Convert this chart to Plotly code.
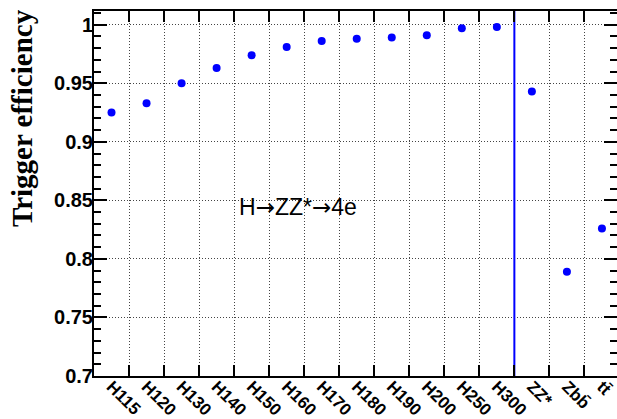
import plotly.graph_objects as go

# Trigger efficiency per sample: Higgs mass points, then backgrounds
higgs_labels = ["H115", "H120", "H130", "H140", "H150", "H160",
                "H170", "H180", "H190", "H200", "H250", "H300"]
higgs_eff = [0.925, 0.933, 0.950, 0.963, 0.974, 0.981,
             0.986, 0.988, 0.989, 0.991, 0.997, 0.998]

bkg_labels = ["ZZ*", "Zbb\u0304", "tt\u0304"]
bkg_eff = [0.943, 0.789, 0.826]

labels = higgs_labels + bkg_labels
effs = higgs_eff + bkg_eff

y_ticks = [0.7, 0.75, 0.8, 0.85, 0.9, 0.95, 1.0]
y_ticktext = ["0.7", "0.75", "0.8", "0.85", "0.9", "0.95", "1"]

n_bins = len(labels)
centers = [i + 0.5 for i in range(n_bins)]
edges = list(range(1, n_bins))
separator = len(higgs_labels)

W, H = 617, 419
ML, MT, MB = 94, 11, 43
y_min, y_max = 0.7, 1.0117

sans = "Liberation Sans, Arial, sans-serif"
x_tick_font = dict(family=sans, size=17, color="black", weight="bold")
y_tick_font = dict(family=sans, size=20, color="black", weight="bold")
grid_dash = "1px,2px"
grid_col = "#444444"

arrow = '<span style="font-family:DejaVu Sans">\u2192</span>'
channel = "H" + arrow + "ZZ*" + arrow + "4e"

fig = go.Figure()

fig.add_trace(go.Scatter(
    x=centers, y=effs, mode="markers",
    marker=dict(color="#0000ff", size=8, line=dict(width=0)),
    showlegend=False, hoverinfo="skip",
))

# separator between signal and background samples
fig.add_trace(go.Scatter(
    x=[separator, separator], y=[y_min, y_max], mode="lines",
    line=dict(color="#0000ff", width=2),
    showlegend=False, hoverinfo="skip",
))

# invisible trace so the right-hand tick axis is drawn
fig.add_trace(go.Scatter(
    x=[centers[0]], y=[effs[0]], yaxis="y2", mode="markers",
    marker=dict(opacity=0), showlegend=False, hoverinfo="skip",
))

fig.update_layout(
    width=W, height=H,
    margin=dict(l=ML, r=0, t=MT, b=MB, autoexpand=False),
    paper_bgcolor="white", plot_bgcolor="white",
    xaxis=dict(
        range=[0, 14.93],
        tickmode="array", tickvals=centers, ticktext=labels,
        tickangle=45, ticks="", showgrid=False,
        tickfont=x_tick_font, ticklabelstandoff=-8,
        showline=True, linecolor="black", linewidth=2, mirror="ticks",
        minor=dict(tickmode="array", tickvals=edges, ticks="inside",
                   ticklen=11, tickwidth=2, tickcolor="black",
                   showgrid=True, gridcolor=grid_col, griddash=grid_dash, gridwidth=1),
        zeroline=False, automargin=False,
    ),
    yaxis=dict(
        range=[y_min, y_max],
        tickmode="array", tickvals=y_ticks, ticktext=y_ticktext,
        ticks="inside", ticklen=13, tickwidth=2, tickcolor="black",
        tickfont=y_tick_font, ticklabelstandoff=-5,
        showgrid=True, gridcolor=grid_col, griddash=grid_dash, gridwidth=1,
        showline=True, linecolor="black", linewidth=2,
        minor=dict(dtick=0.01, tick0=0.7, ticks="inside", ticklen=7,
                   tickwidth=2, tickcolor="black", showgrid=False),
        zeroline=False, automargin=False,
    ),
    yaxis2=dict(
        overlaying="y", side="right", range=[y_min, y_max],
        tickmode="array", tickvals=y_ticks, showticklabels=False,
        ticks="inside", ticklen=13, tickwidth=2, tickcolor="black",
        minor=dict(dtick=0.01, tick0=0.7, ticks="inside", ticklen=7,
                   tickwidth=2, tickcolor="black"),
        showgrid=False, showline=False, zeroline=False,
    ),
    annotations=[
        dict(text="Trigger efficiency", textangle=-90,
             xref="paper", yref="paper",
             x=(22 - ML) / (W - ML), y=(H - MB - 7) / (H - MB - MT),
             xanchor="center", yanchor="top", showarrow=False,
             font=dict(family="Liberation Serif, Times New Roman, serif",
                       size=29, color="black", weight="bold")),
        dict(text=channel, xref="x", yref="y",
             x=4.08, y=0.8440, xanchor="left", yanchor="middle",
             showarrow=False,
             font=dict(family=sans, size=23, color="black")),
    ],
)

fig.write_html("out.html")
